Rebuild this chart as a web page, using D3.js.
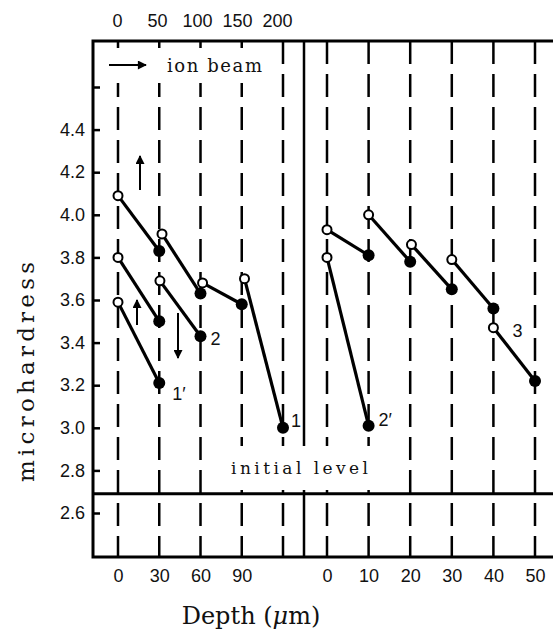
<!DOCTYPE html>
<html>
<head>
<meta charset="utf-8">
<script src="https://cdn.jsdelivr.net/npm/d3@7.9.0/dist/d3.min.js"></script>
<style>
  body { margin: 0; background: #fff; }
  svg { display: block; }
  .num { font-family: "Liberation Sans", Arial, sans-serif; font-size: 18px; fill: #111; }
  .serif { font-family: "DejaVu Serif", serif; fill: #111; }
</style>
</head>
<body>
<svg id="chart" width="553" height="633"></svg>
<script>
// depth ticks (μm) of the two panels, and the top scale
const leftTicks = [0, 30, 60, 90];
const leftGrid = [0, 30, 60, 90, 120];
const rightTicks = [0, 10, 20, 30, 40, 50];
const topTicks = [0, 50, 100, 150, 200];
const yTicks = [2.6, 2.8, 3.0, 3.2, 3.4, 3.6, 3.8, 4.0, 4.2, 4.4, 4.6];
const initialLevel = 2.69;

// every pair of points is one segment: open circle -> filled circle
const curve1Depth = [0, 30, 32, 60, 61.5, 90, 92, 120];
const curve1Hard = [4.09, 3.83, 3.91, 3.63, 3.68, 3.58, 3.70, 3.00];
const curve2Depth = [0, 30, 30.5, 60];
const curve2Hard = [3.80, 3.50, 3.69, 3.43];
const curve1pDepth = [0, 30];
const curve1pHard = [3.59, 3.21];
const curve2pDepth = [0, 10];
const curve2pHard = [3.80, 3.01];
const curve3Depth = [0, 10, 10, 20, 20.3, 30, 30, 40, 40, 50];
const curve3Hard = [3.93, 3.81, 4.00, 3.78, 3.86, 3.65, 3.79, 3.56, 3.47, 3.22];

const svg = d3.select('#chart');

const frameLeft = 93, frameTop = 41, frameBottom = 557, divider = 304;

const xL = d3.scaleLinear().domain([0, 120]).range([118, 283]);
const xR = d3.scaleLinear().domain([0, 50]).range([327, 535]);
const xTop = d3.scaleLinear().domain([0, 200]).range([117, 277]);
const y = d3.scaleLinear().domain([2.6, 4.6]).range([513, 87]);

// dashed verticals
const grid = svg.append('g')
  .attr('stroke', '#000')
  .attr('stroke-width', 2.5)
  .attr('stroke-dasharray', '23,10');
leftGrid.forEach(d => {
  grid.append('line').attr('x1', xL(d)).attr('x2', xL(d))
    .attr('y1', frameTop).attr('y2', frameBottom);
});
rightTicks.forEach(d => {
  grid.append('line').attr('x1', xR(d)).attr('x2', xR(d))
    .attr('y1', frameTop).attr('y2', frameBottom);
});

// solid divider between the panels
svg.append('line')
  .attr('x1', divider).attr('x2', divider)
  .attr('y1', frameTop).attr('y2', frameBottom)
  .attr('stroke', '#000').attr('stroke-width', 2.5);

// white boxes behind the two notes
svg.append('rect').attr('x', 100).attr('y', 48).attr('width', 170).attr('height', 35).attr('fill', '#fff');
svg.append('rect').attr('x', 215).attr('y', 446).attr('width', 170).attr('height', 44).attr('fill', '#fff');

// frame (no right border) and initial level line
svg.append('path')
  .attr('d', `M553,${frameTop}H${frameLeft}V${frameBottom}H553`)
  .attr('fill', 'none').attr('stroke', '#000').attr('stroke-width', 3);
svg.append('line')
  .attr('x1', frameLeft).attr('x2', 553)
  .attr('y1', y(initialLevel)).attr('y2', y(initialLevel))
  .attr('stroke', '#000').attr('stroke-width', 3);

// axes
const yAxis = svg.append('g')
  .attr('transform', `translate(${frameLeft},0)`)
  .call(d3.axisLeft(y).tickValues(yTicks).tickSizeInner(-7).tickSizeOuter(0).tickPadding(8)
    .tickFormat(d => d > 4.5 ? '' : d3.format('.1f')(d)));
yAxis.select('.domain').remove();
yAxis.selectAll('line').attr('stroke-width', 2.5);

const botL = svg.append('g')
  .attr('transform', `translate(0,${frameBottom})`)
  .call(d3.axisBottom(xL).tickValues(leftTicks).tickSize(0).tickPadding(12));
const botR = svg.append('g')
  .attr('transform', `translate(0,${frameBottom})`)
  .call(d3.axisBottom(xR).tickValues(rightTicks).tickSize(0).tickPadding(12));
const topAx = svg.append('g')
  .attr('transform', `translate(0,${frameTop})`)
  .call(d3.axisTop(xTop).tickValues(topTicks).tickSize(0).tickPadding(14));

[yAxis, botL, botR, topAx].forEach(g => {
  g.attr('font-family', null).attr('font-size', null);
  g.selectAll('text').attr('class', 'num');
});
[botL, botR, topAx].forEach(g => g.select('.domain').remove());

// arrow marker
svg.append('defs').append('marker')
  .attr('id', 'head')
  .attr('viewBox', '0 0 10 10')
  .attr('refX', 9).attr('refY', 5)
  .attr('markerWidth', 5.5).attr('markerHeight', 4.5)
  .attr('markerUnits', 'strokeWidth')
  .attr('orient', 'auto')
  .append('path').attr('d', 'M0,0L10,5L0,10Z').attr('fill', '#000');

const arrow = (x1, y1, x2, y2) => svg.append('line')
  .attr('x1', x1).attr('y1', y1).attr('x2', x2).attr('y2', y2)
  .attr('stroke', '#000').attr('stroke-width', 2)
  .attr('marker-end', 'url(#head)');

arrow(109, 65, 146, 65);
arrow(140, 190, 140, 156);
arrow(137, 325, 137, 300);
arrow(178, 313, 178, 358);

// notes and titles
svg.append('text').attr('class', 'serif')
  .attr('x', 167).attr('y', 72).attr('font-size', 18)
  .attr('textLength', 95).attr('lengthAdjust', 'spacing')
  .text('ion beam');
svg.append('text').attr('class', 'serif')
  .attr('x', 231).attr('y', 474).attr('font-size', 17)
  .attr('textLength', 137).attr('lengthAdjust', 'spacing')
  .text('initial level');
svg.append('text').attr('class', 'serif')
  .attr('transform', 'translate(34,482) rotate(-90)')
  .attr('font-size', 23)
  .attr('textLength', 220).attr('lengthAdjust', 'spacing')
  .text('microhardress');
const depthTitle = svg.append('text').attr('class', 'serif')
  .attr('x', 251).attr('y', 624).attr('text-anchor', 'middle').attr('font-size', 24);
depthTitle.append('tspan').text('Depth (');
depthTitle.append('tspan').attr('font-style', 'italic').text('μ');
depthTitle.append('tspan').text('m)');

// curves
const curves = [
  { depth: curve1Depth, hard: curve1Hard, x: xL, label: '1', at: 7, dx: 8, dy: -1 },
  { depth: curve2Depth, hard: curve2Hard, x: xL, label: '2', at: 3, dx: 10, dy: 9 },
  { depth: curve1pDepth, hard: curve1pHard, x: xL, label: '1′', at: 1, dx: 13, dy: 17 },
  { depth: curve2pDepth, hard: curve2pHard, x: xR, label: '2′', at: 1, dx: 10, dy: 0 },
  { depth: curve3Depth, hard: curve3Hard, x: xR, label: '3', at: 8, dx: 19, dy: 9 }
];

const line = d3.line();
const marks = svg.append('g');

curves.forEach(c => {
  const pts = c.depth.map((d, i) => [c.x(d), y(c.hard[i])]);
  const segs = d3.range(0, pts.length, 2).map(i => [pts[i], pts[i + 1]]);
  segs.forEach(s => {
    marks.append('path').attr('d', line(s))
      .attr('fill', 'none').attr('stroke', '#000').attr('stroke-width', 3.2);
  });
  segs.forEach(s => {
    marks.append('circle').attr('cx', s[0][0]).attr('cy', s[0][1]).attr('r', 4.5)
      .attr('fill', '#fff').attr('stroke', '#000').attr('stroke-width', 2);
    marks.append('circle').attr('cx', s[1][0]).attr('cy', s[1][1]).attr('r', 6)
      .attr('fill', '#000');
  });
  const a = pts[c.at];
  marks.append('text').attr('class', 'num')
    .attr('x', a[0] + c.dx).attr('y', a[1] + c.dy)
    .text(c.label);
});
</script>
</body>
</html>
